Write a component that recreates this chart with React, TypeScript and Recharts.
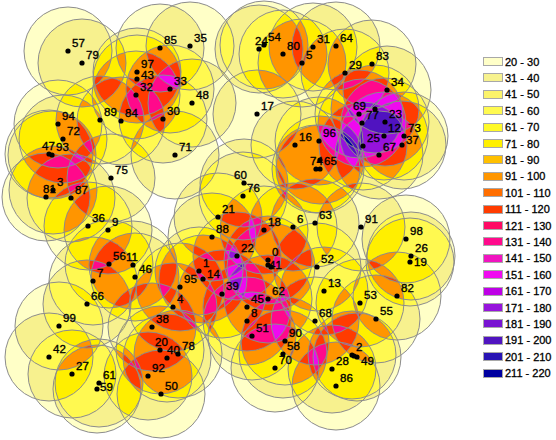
import React from "react";
import { ScatterChart, Scatter, XAxis, YAxis, Legend } from "recharts";

const siteIds = ["57","79","85","35","97","43","33","32","48","89","84","30","94","72","71","47","93","3","81","87","75","36","9","56","11","46","7","66","99","42","27","61","59","38","20","40","78","92","50","4","95","1","14","39","88","21","24","54","80","31","5","64","83","29","34","17","69","","77","23","12","73","37","25","67","96","16","74","65","","60","76","6","63","91","18","22","0","41","52","13","98","26","19","82","53","55","68","62","45","8","51","90","58","70","2","49","28","86"];
const siteX = [68,82,160,190,137,137,170,136,192,100,121,163,58,63,175,49,52,53,46,71,111,88,108,109,133,135,93,87,59,49,72,99,97,152,160,167,178,148,161,173,180,199,203,222,212,218,259,264,283,313,302,336,372,345,387,257,359,375,362,385,384,404,402,363,379,319,295,316,320,320,244,243,293,315,361,264,237,268,271,317,324,406,411,410,397,360,376,315,268,247,247,252,285,283,275,352,357,332,336];
const siteY = [51,63,48,46,72,79,89,95,103,120,121,119,124,139,155,154,155,190,197,198,178,226,230,264,265,277,281,304,326,357,374,383,389,327,350,358,354,376,394,307,287,271,279,294,237,217,49,45,54,47,63,46,64,73,90,114,114,109,123,122,136,136,145,146,155,141,145,169,169,160,183,196,227,223,227,230,256,260,267,267,291,239,256,262,296,303,319,321,299,307,321,336,341,354,368,355,357,369,386];
// dots drawn without a service circle of their own
const extraDotX = [268, 354];
const extraDotY = [265, 356];

const legendLabels = ["20 - 30","31 - 40","41 - 50","51 - 60","61 - 70","71 - 80","81 - 90","91 - 100","101 - 110","111 - 120","121 - 130","131 - 140","141 - 150","151 - 160","161 - 170","171 - 180","181 - 190","191 - 200","201 - 210","211 - 220"];
const legendColors = ["#FFFFC8","#F7F28E","#FBF36A","#FFFA50","#FFFA28","#FFF000","#FFC000","#FF9600","#FF6E00","#FF3C00","#FF0A64","#FF0A8C","#F014C0","#F00AF0","#BE00E6","#9614DC","#7814D2","#5014C0","#2814B4","#0000A0"];
// legend class reached where 1, 2, 3 ... circles overlap
const overlapClass = [0, 1, 3, 5, 7, 9, 11, 13, 15, 17, 19];

const labelNudge: Record<string, [number, number]> = {
  "81": [-7, 0], "47": [-11, 0], "69": [-10, 0], "60": [-14, 0], "24": [-8, 0], "74": [-10, 0],
  "59": [-1, 6], "14": [0, 3], "49": [0, 12], "19": [0, 8], "37": [0, 3], "41": [-6, 6],
  "40": [-4, 0], "20": [-9, 0], "11": [-11, 0], "43": [0, 4],
};

const sites = siteIds.map((id, i) => ({ id, x: siteX[i], y: siteY[i] }));
const marks = [...sites, ...extraDotX.map((x, i) => ({ id: "", x, y: extraDotY[i] }))];

const RADIUS = 44;
const STEP_ALPHA = 0.12;

const hex = (c: string, i: number) => parseInt(c.slice(1 + i * 2, 3 + i * 2), 16) / 255;
const channelTable = (i: number) => {
  const out: string[] = [];
  for (let v = 0; v < 256; v++) {
    const n = Math.round(Math.log(1 - Math.min(v, 254) / 255) / Math.log(1 - STEP_ALPHA));
    const val = n <= 0 ? 1 : hex(legendColors[overlapClass[Math.min(n, overlapClass.length) - 1]], i);
    out.push(val.toFixed(3));
  }
  return out.join(" ");
};

const FillCircle = (p: any) => <circle cx={p.cx} cy={p.cy} r={RADIUS} fill="#000" fillOpacity={STEP_ALPHA} />;
const RingCircle = (p: any) => <circle cx={p.cx} cy={p.cy} r={RADIUS} fill="none" stroke="#8c8c8c" strokeWidth={1} />;
const SiteMark = (p: any) => {
  const id = p.payload.id as string;
  const n = labelNudge[id] || [0, 0];
  return (
    <g>
      <circle cx={p.cx} cy={p.cy} r={2.6} fill="#000" />
      {id && (
        <text x={p.cx + 4 + n[0]} y={p.cy - 4 + n[1]} fontFamily="'Liberation Sans', Arial, sans-serif" fontSize={11.5} fill="#000" stroke="#000" strokeWidth={0.35}>
          {id}
        </text>
      )}
    </g>
  );
};

const LegendBody = () => (
  <div style={{ width: 86, position: "relative", height: 330 }}>
    {legendLabels.map((label, i) => (
      <div key={label} style={{ position: "absolute", left: 13, top: i * 16.4, display: "flex", alignItems: "center", height: 11 }}>
        <span style={{ display: "inline-block", boxSizing: "border-box", width: 20, height: 9, background: legendColors[i], border: "1px solid #a8a8a8" }} />
        <span style={{ marginLeft: 2, fontFamily: "'Liberation Sans', Arial, sans-serif", fontSize: 11, fontWeight: 400, color: "#000", WebkitTextStroke: "0.3px #000", whiteSpace: "nowrap" }}>{label}</span>
      </div>
    ))}
  </div>
);

export default function App() {
  return (
    <div style={{ position: "absolute", left: 0, top: 0, width: 556, height: 440 }}>
      <style>{`.coverage-layer { filter: url(#coverage); }`}</style>
      <svg width={0} height={0} style={{ position: "absolute" }}>
        <defs>
          <filter id="coverage" filterUnits="userSpaceOnUse" x={0} y={0} width={470} height={440} colorInterpolationFilters="sRGB">
            <feColorMatrix type="matrix" values="0 0 0 1 0  0 0 0 1 0  0 0 0 1 0  0 0 0 0 1" />
            <feComponentTransfer>
              <feFuncR type="discrete" tableValues={channelTable(0)} />
              <feFuncG type="discrete" tableValues={channelTable(1)} />
              <feFuncB type="discrete" tableValues={channelTable(2)} />
            </feComponentTransfer>
          </filter>
        </defs>
      </svg>
      <ScatterChart width={556} height={440} margin={{ top: 0, right: 0, bottom: 0, left: 0 }}>
        <XAxis type="number" dataKey="x" domain={[0, 470]} hide allowDataOverflow />
        <YAxis type="number" dataKey="y" domain={[0, 440]} reversed hide allowDataOverflow />
        <Legend layout="vertical" align="right" verticalAlign="top" width={86} content={LegendBody} wrapperStyle={{ top: 56, right: 0 }} />
        <Scatter data={sites} className="coverage-layer" shape={FillCircle} isAnimationActive={false} />
        <Scatter data={sites} shape={RingCircle} isAnimationActive={false} />
        <Scatter data={marks} shape={SiteMark} isAnimationActive={false} />
      </ScatterChart>
    </div>
  );
}
